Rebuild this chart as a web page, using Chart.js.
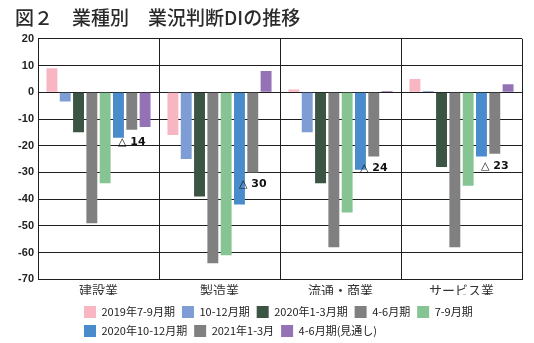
<!DOCTYPE html>
<html lang="ja">
<head>
<meta charset="utf-8">
<title>業種別 業況判断DIの推移</title>
<script src="https://cdn.jsdelivr.net/npm/chart.js@4/dist/chart.umd.min.js"></script>
<style>
  html, body { margin: 0; padding: 0; background: #fff; }
  #wrap { width: 534px; height: 343px; }
</style>
</head>
<body>
<div id="wrap"><canvas id="chart" width="534" height="343"></canvas></div>
<script>
// 業種
const categories = ['建設業', '製造業', '流通・商業', 'サービス業'];

// 業況判断DI（各期）
const di2019q3 = [9, -16, 1, 5];
const di2019q4 = [-3.5, -25, -15, 0.5];
const di2020q1 = [-15, -39, -34, -28];
const di2020q2 = [-49, -64, -58, -58];
const di2020q3 = [-34, -61, -45, -35];
const di2020q4 = [-17, -42, -29, -24];
const di2021q1 = [-14, -30, -24, -23];
const di2021q2f = [-13, 8, 0.5, 3];

const seriesLabels = ['2019年7-9月期', '10-12月期', '2020年1-3月期', '4-6月期', '7-9月期',
  '2020年10-12月期', '2021年1-3月', '4-6月期(見通し)'];
const seriesData = [di2019q3, di2019q4, di2020q1, di2020q2, di2020q3, di2020q4, di2021q1, di2021q2f];
const seriesColors = ['#f8b6c3', '#7e9dd4', '#3b5444', '#808080', '#86c593', '#4a8bcb', '#808080', '#9472b6'];

// y軸
const yMin = -70, yMax = 20, yStep = 10;

const INK = '#1e1e1e';
const JP = '"Noto Sans CJK JP", "Noto Sans", sans-serif';

// 2021年1-3月の棒の下に「△ 値」を書く
const noteIndex = 6;
const notePlugin = {
  id: 'note',
  afterDatasetsDraw(chart) {
    const meta = chart.getDatasetMeta(noteIndex);
    const ctx = chart.ctx;
    ctx.save();
    ctx.fillStyle = '#111';
    ctx.font = 'bold 11px "DejaVu Sans", sans-serif';
    ctx.textAlign = 'center';
    ctx.textBaseline = 'middle';
    meta.data.forEach((bar, i) => {
      const v = seriesData[noteIndex][i];
      ctx.fillText('△ ' + Math.abs(v), bar.x, bar.y + 12);
    });
    ctx.restore();
  }
};

// タイトルと凡例を左寄せの位置へ
const placePlugin = {
  id: 'place',
  afterLayout(chart) {
    chart.titleBlock.left = 15;
    chart.legend.left = 77;
    chart.legend.top += 4;
  }
};

new Chart(document.getElementById('chart'), {
  type: 'bar',
  data: {
    labels: categories,
    datasets: seriesData.map((d, i) => ({
      label: seriesLabels[i],
      data: d,
      backgroundColor: seriesColors[i],
      borderWidth: 0,
      categoryPercentage: 0.88,
      barPercentage: 0.82,
    })),
  },
  options: {
    responsive: false,
    animation: false,
    devicePixelRatio: 1,
    layout: { padding: { left: 15, right: 12, top: 0, bottom: 0 } },
    scales: {
      x: {
        afterFit: s => { s.height -= 6; },
        grid: { color: INK, lineWidth: 1, drawTicks: false, offset: true },
        border: { color: INK },
        ticks: { color: '#333', font: { family: JP, size: 13 }, padding: 3 },
      },
      y: {
        min: yMin, max: yMax,
        afterFit: s => { s.width = 23; },
        grid: { color: INK, lineWidth: 1, drawTicks: false },
        border: { color: INK },
        ticks: { stepSize: yStep, color: '#222', padding: 4,
          font: { family: '"Liberation Sans", sans-serif', size: 11, weight: 'bold' } },
      },
    },
    plugins: {
      title: {
        display: true, align: 'start',
        text: '図２　業種別　業況判断DIの推移',
        color: '#2a2a2a',
        font: { family: JP, size: 19, weight: '500' },
        padding: { top: 6, bottom: 10 },
      },
      legend: {
        position: 'bottom', align: 'start',
        labels: { boxWidth: 12, boxHeight: 12, padding: 7, color: '#222',
          font: { family: JP, size: 11 } },
      },
      tooltip: { enabled: false },
    },
  },
  plugins: [notePlugin, placePlugin],
});
</script>
</body>
</html>
